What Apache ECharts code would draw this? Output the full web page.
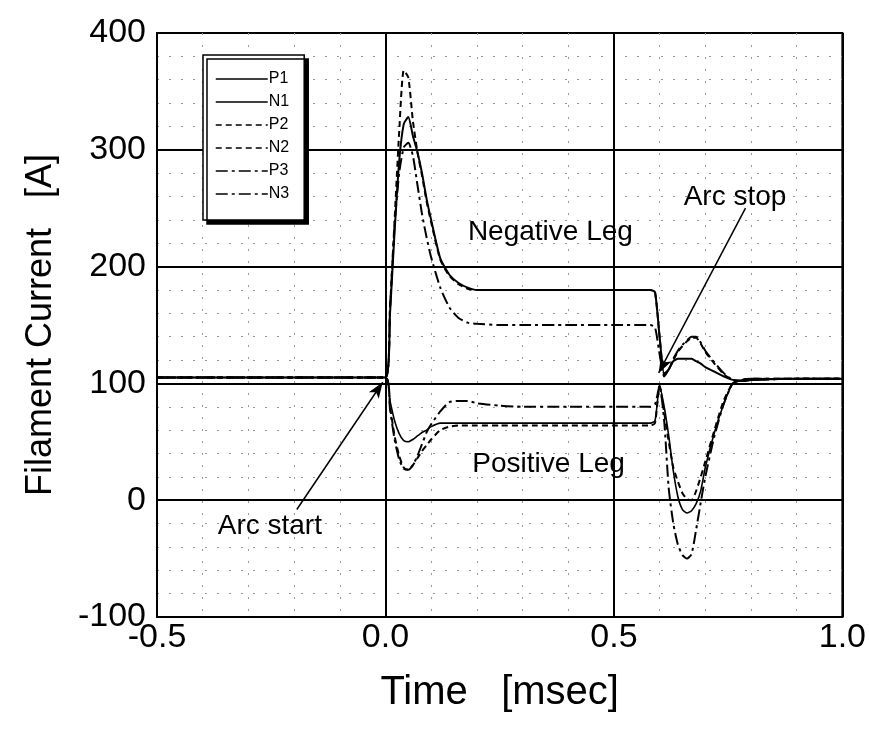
<!DOCTYPE html>
<html>
<head>
<meta charset="utf-8">
<script src="https://cdn.jsdelivr.net/npm/echarts@6/dist/echarts.min.js"></script>
<style>
  html, body { margin: 0; padding: 0; background: #fff; }
  #chart { width: 869px; height: 744px; }
</style>
</head>
<body>
<div id="chart"></div>
<script>
// Time base shared by all six filament current traces [msec]
const time = [-0.5, -0.25, 0, 0.01, 0.02, 0.03, 0.04, 0.05, 0.06, 0.07, 0.08, 0.09, 0.10,
  0.12, 0.14, 0.16, 0.18, 0.20, 0.25, 0.30, 0.40, 0.50, 0.58, 0.59, 0.60, 0.61, 0.62, 0.63,
  0.64, 0.65, 0.66, 0.67, 0.68, 0.69, 0.70, 0.72, 0.74, 0.76, 0.78, 0.80, 0.90, 1.00];

// Filament currents [A]; P = positive leg, N = negative leg
const P1 = [105, 105, 105, 85, 68, 57, 51, 50, 52, 55, 58, 60, 63,
  66, 66, 66, 66, 66, 66, 66, 66, 66, 66, 68, 98, 80, 55, 25,
  3, -8, -11, -9, -3, 8, 28, 58, 82, 100, 103, 104, 104, 104];
const N1 = [105, 105, 105, 160, 230, 290, 322, 328, 312, 298, 280, 258, 240,
  207, 193, 186, 182, 180, 180, 180, 180, 180, 180, 178, 140, 108, 112, 119,
  121, 121, 121, 121, 119, 117, 114, 110, 106, 103, 102, 103, 104, 104];
const P2 = [105, 105, 105, 80, 55, 38, 28, 26, 30, 36, 42, 47, 52,
  60, 63, 64, 64, 64, 64, 64, 64, 64, 64, 66, 98, 75, 50, 28,
  16, 6, 1, 0, 8, 20, 33, 60, 85, 100, 103, 104, 104, 104];
const N2 = [105, 105, 105, 165, 240, 315, 368, 362, 325, 298, 278, 256, 238,
  206, 192, 185, 181, 180, 180, 180, 180, 180, 180, 178, 140, 108, 112, 120,
  127, 132, 136, 139, 139, 134, 127, 117, 108, 103, 102, 103, 104, 104];
const P3 = [105, 105, 105, 78, 52, 35, 27, 26, 30, 38, 48, 58, 65,
  76, 84, 85, 85, 83, 81, 80, 80, 80, 80, 82, 98, 68, 10, -20,
  -38, -47, -50, -46, -25, -2, 20, 55, 82, 100, 103, 104, 104, 104];
const N3 = [105, 105, 105, 165, 235, 280, 302, 306, 295, 270, 245, 225, 208,
  182, 165, 156, 152, 151, 150, 150, 150, 150, 150, 148, 125, 106, 112, 121,
  128, 133, 137, 140, 140, 135, 128, 118, 109, 103, 102, 103, 104, 104];

const seriesNames = ['P1', 'N1', 'P2', 'N2', 'P3', 'N3'];
const seriesValues = [P1, N1, P2, N2, P3, N3];

// Axis ranges and tick spacing
const xRange = [-0.5, 1.0, 0.5];
const yRange = [-100, 400, 100];

// Text annotations and their anchor points (time, current)
const noteTexts = ['Negative Leg', 'Positive Leg', 'Arc start', 'Arc stop'];
const notePoints = [[0.361, 229], [0.357, 31], [-0.253, -22], [0.765, 259]];
// Arrows: from label to event
const arrowFrom = [[-0.194, -8], [0.788, 250]];
const arrowTo = [[-0.006, 101], [0.598, 109]];

const FONT = '"Liberation Sans", Arial, sans-serif';
const dashStyles = ['solid', 'solid', [6, 4], [6, 4], [12, 4, 3, 4], [12, 4, 3, 4]];
const widths = [1.6, 2, 2, 2, 2, 2];

const lineSeries = seriesNames.map((name, i) => ({
  name: name,
  type: 'line',
  data: time.map((t, k) => [t, seriesValues[i][k]]),
  showSymbol: false,
  symbol: 'none',
  smooth: 0.2,
  z: 5,
  lineStyle: { color: '#000', width: widths[i], type: dashStyles[i] },
  itemStyle: { color: '#000' }
}));

const noteSeries = {
  name: 'notes',
  type: 'scatter',
  data: notePoints.map((p, i) => ({ value: p, name: noteTexts[i] })),
  symbolSize: 0,
  silent: true,
  z: 6,
  itemStyle: { color: '#000', opacity: 1 },
  label: {
    show: true,
    position: [0, 0],
    align: 'center',
    verticalAlign: 'middle',
    formatter: (p) => p.name,
    fontFamily: FONT,
    fontSize: 28,
    color: '#000',
    opacity: 1
  },
  markLine: {
    silent: true,
    symbol: ['none', 'arrow'],
    symbolSize: [9, 16],
    label: { show: false },
    lineStyle: { color: '#000', width: 1.5, type: 'solid', opacity: 1 },
    data: arrowFrom.map((a, i) => [{ coord: a }, { coord: arrowTo[i] }])
  }
};

const minorLine = { show: true, lineStyle: { color: '#999', width: 1, type: [2, 10] } };

const chart = echarts.init(document.getElementById('chart'), null, { renderer: 'canvas' });
chart.setOption({
  animation: false,
  backgroundColor: '#fff',
  grid: { left: 157, right: 21, top: 33, bottom: 127, show: true, borderColor: '#000', borderWidth: 2 },
  legend: {
    data: seriesNames,
    orient: 'vertical',
    left: 203,
    top: 55,
    itemWidth: 52,
    itemHeight: 14,
    itemGap: 7,
    padding: [16, 15, 18, 12],
    backgroundColor: '#fff',
    borderColor: '#000',
    borderWidth: 1.5,
    shadowColor: '#000',
    shadowBlur: 0,
    shadowOffsetX: 4,
    shadowOffsetY: 4,
    itemStyle: { opacity: 0 },
    lineStyle: { width: 1.5 },
    textStyle: { fontFamily: FONT, fontSize: 16, color: '#000', padding: [0, 0, 0, -4] },
    selectedMode: false
  },
  xAxis: {
    type: 'value',
    min: xRange[0],
    max: xRange[1],
    interval: xRange[2],
    name: 'Time   [msec]',
    nameLocation: 'middle',
    nameGap: 56,
    nameTextStyle: { fontFamily: FONT, fontSize: 40, color: '#000' },
    axisLine: { show: true, onZero: false, lineStyle: { color: '#000', width: 2 } },
    axisTick: { show: false },
    axisLabel: { fontFamily: FONT, fontSize: 34, color: '#000', margin: 4,
      formatter: (v) => v.toFixed(1) },
    splitLine: { show: true, lineStyle: { color: '#000', width: 2 } },
    minorTick: { show: false, splitNumber: 5 },
    minorSplitLine: minorLine
  },
  yAxis: {
    type: 'value',
    min: yRange[0],
    max: yRange[1],
    interval: yRange[2],
    name: 'Filament Current   [A]',
    nameLocation: 'middle',
    nameGap: 98,
    nameTextStyle: { fontFamily: FONT, fontSize: 36, color: '#000' },
    axisLine: { show: true, onZero: false, lineStyle: { color: '#000', width: 2 } },
    axisTick: { show: false },
    axisLabel: { fontFamily: FONT, fontSize: 34, color: '#000', margin: 11 },
    splitLine: { show: true, lineStyle: { color: '#000', width: 2 } },
    minorTick: { show: false, splitNumber: 5 },
    minorSplitLine: minorLine
  },
  series: lineSeries.concat([noteSeries])
});
</script>
</body>
</html>
